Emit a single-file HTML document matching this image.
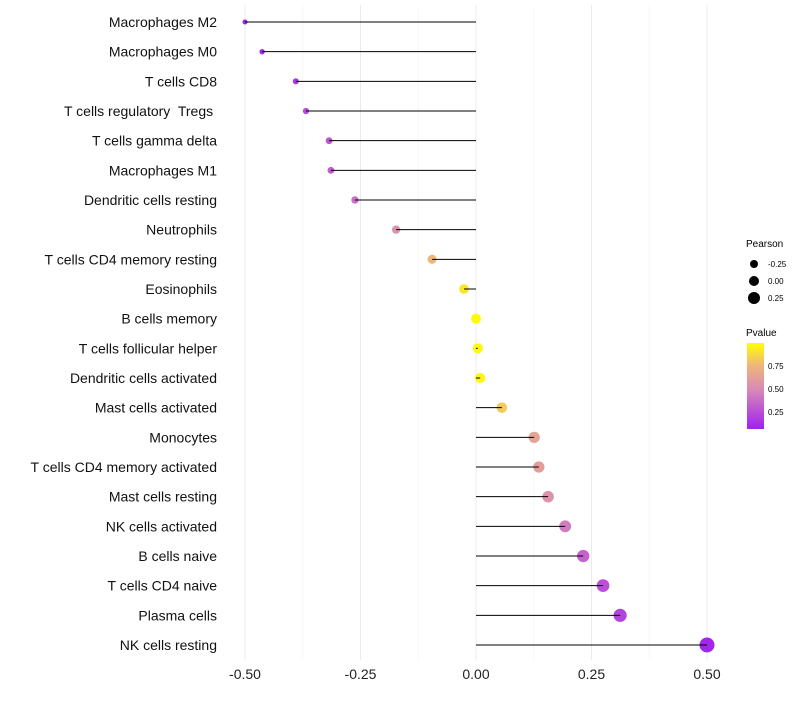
<!DOCTYPE html>
<html><head><meta charset="utf-8"><style>
body{margin:0;background:#fff;}
svg{font-family:"Liberation Sans",sans-serif;}
#ylabels text{white-space:pre;}
</style></head><body>
<svg id="chart" width="800" height="700">
<g id="grid"></g>
<g id="dots"></g>
<g id="marks"></g>
<g id="ylabels"></g>
<g id="xlabels"></g>
<g>
<text x="746" y="247" font-size="10" fill="#000">Pearson</text>
<circle cx="754" cy="264" r="4" fill="#000"/>
<text x="768" y="267" font-size="8">-0.25</text>
<circle cx="754" cy="281" r="5" fill="#000"/>
<text x="768" y="284" font-size="8">0.00</text>
<circle cx="754" cy="298" r="6" fill="#000"/>
<text x="768" y="301" font-size="8">0.25</text>
</g>
<g>
<defs><linearGradient id="pg" x1="0" y1="1" x2="0" y2="0">
<stop offset="0" stop-color="#A020F0"/><stop offset="0.45" stop-color="#D888B8"/><stop offset="0.75" stop-color="#F0B878"/><stop offset="1" stop-color="#FFFF00"/>
</linearGradient></defs>
<text x="746" y="336" font-size="10">Pvalue</text>
<rect x="747" y="343" width="17" height="86" fill="url(#pg)"/>
<text x="768" y="369" font-size="8">0.75</text>
<text x="768" y="392" font-size="8">0.50</text>
<text x="768" y="415" font-size="8">0.25</text>
</g>
</svg>
<script>
const categories=["Macrophages M2","Macrophages M0","T cells CD8","T cells regulatory  Tregs ","T cells gamma delta","Macrophages M1","Dendritic cells resting","Neutrophils","T cells CD4 memory resting","Eosinophils","B cells memory","T cells follicular helper","Dendritic cells activated","Mast cells activated","Monocytes","T cells CD4 memory activated","Mast cells resting","NK cells activated","B cells naive","T cells CD4 naive","Plasma cells","NK cells resting"];
const pearson=[-0.50,-0.463,-0.39,-0.368,-0.318,-0.314,-0.262,-0.173,-0.095,-0.026,0.0,0.004,0.009,0.056,0.126,0.136,0.156,0.193,0.232,0.275,0.312,0.50];
const pvalue=[0.08,0.1,0.18,0.25,0.3,0.32,0.4,0.55,0.75,0.92,0.99,0.98,0.97,0.82,0.65,0.62,0.55,0.45,0.35,0.27,0.22,0.1];
const xTicks=[-0.5,-0.25,0,0.25,0.5];
const xTickLabels=["-0.50","-0.25","0.00","0.25","0.50"];
const NS="http://www.w3.org/2000/svg";
const x=v=>476+v*462;
const y=i=>22+i*(623/21);
const rad=p=>Math.max(1.6,5+5*p);
const stops=[[0.076,[160,32,240]],[0.5,[216,136,184]],[0.76,[240,184,120]],[1.0,[255,255,0]]];
function col(p){p=Math.max(0.076,Math.min(1,p));for(let k=1;k<stops.length;k++){if(p<=stops[k][0]){const a=stops[k-1],b=stops[k];const t=(p-a[0])/(b[0]-a[0]);const c=a[1].map((v,j)=>Math.round(v+(b[1][j]-v)*t));return`rgb(${c})`;}}return"rgb(255,255,0)";}
function mk(tag,attrs,parent){const e=document.createElementNS(NS,tag);for(const k in attrs)e.setAttribute(k,attrs[k]);document.getElementById(parent).appendChild(e);return e;}
for(let v=-0.5;v<=0.5001;v+=0.125){const major=Math.abs((v*4)-Math.round(v*4))<1e-6;
const g=mk("line",{x1:x(v),x2:x(v),y1:5,y2:660,stroke:major?"#ebebeb":"#f4f4f4","stroke-width":major?1:0.6},"grid");

}
xTicks.forEach((v,i)=>{const t=mk("text",{x:x(v),y:679,"font-size":14,"text-anchor":"middle",fill:"#222"},"xlabels");t.textContent=xTickLabels[i];

});
categories.forEach((c,i)=>{
const t=mk("text",{x:217,y:y(i)+5,"font-size":14,"text-anchor":"end",fill:"#111"},"ylabels");t.textContent=c;


const d=mk("circle",{cx:x(pearson[i]),cy:y(i),r:rad(pearson[i]),fill:col(pvalue[i])},"dots");


const l=mk("line",{x1:x(0),x2:x(pearson[i]),y1:y(i),y2:y(i),stroke:"#000","stroke-width":1},"marks");


});
</script>
</body></html>
